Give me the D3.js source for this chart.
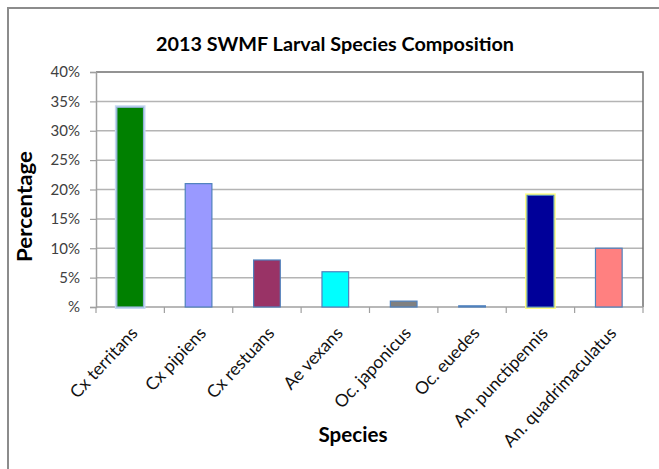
<!DOCTYPE html>
<html>
<head>
<meta charset="utf-8">
<script src="https://cdn.jsdelivr.net/npm/d3@7"></script>
<style>
  html, body { margin: 0; padding: 0; background: #fff; }
  svg { display: block; }
  text { font-family: Lato, "Open Sans", sans-serif; }
</style>
</head>
<body>
<svg id="chart" width="659" height="469"></svg>
<script>
// Larval species composition, 2013 (percent of larvae collected)
const species = ["Cx territans", "Cx pipiens", "Cx restuans", "Ae vexans",
                 "Oc. japonicus", "Oc. euedes", "An. punctipennis", "An. quadrimaculatus"];
const percent = [34, 21, 8, 6, 1, 0.2, 19, 10];
const barColors = ["#008000", "#9999ff", "#993366", "#00ffff",
                   "#808080", "#8fb0e0", "#000099", "#ff8080"];
const yTicks = [0, 5, 10, 15, 20, 25, 30, 35, 40];
const titleText = "2013 SWMF Larval Species Composition";
const xTitle = "Species";
const yTitle = "Percentage";

const svg = d3.select("#chart");
const plot = { left: 96, right: 643, top: 72, bottom: 307 };

// Outer chart frame (runs past the right and bottom edges)
svg.append("rect")
  .attr("x", 8).attr("y", 8).attr("width", 700).attr("height", 520)
  .attr("fill", "#fff").attr("stroke", "#8c8c8c").attr("stroke-width", 2);

const x = d3.scaleBand().domain(species).range([plot.left, plot.right]).padding(0);
const y = d3.scaleLinear().domain([0, 40]).range([plot.bottom, plot.top]);

// Horizontal gridlines
svg.append("g")
  .selectAll("line")
  .data(yTicks.filter(t => t > 0 && t < 40))
  .join("line")
  .attr("x1", plot.left).attr("x2", plot.right)
  .attr("y1", d => y(d)).attr("y2", d => y(d))
  .attr("stroke", "#b4b4b4").attr("stroke-width", 1.5);

// Plot area border: top and right
svg.append("path")
  .attr("d", `M${plot.left},${plot.top}H${plot.right}V${plot.bottom}`)
  .attr("fill", "none").attr("stroke", "#707070").attr("stroke-width", 1.5);

// Y axis
const yAxis = d3.axisLeft(y)
  .tickValues(yTicks)
  .tickSize(6)
  .tickPadding(10)
  .tickFormat(d => d === 0 ? "%" : d + "%");
const yg = svg.append("g").attr("transform", `translate(${plot.left},0)`).call(yAxis);
yg.select(".domain").attr("stroke", "#a0a0a0").attr("stroke-width", 1.5);
yg.selectAll(".tick line").attr("stroke", "#a0a0a0").attr("stroke-width", 1.2);
yg.selectAll(".tick text")
  .attr("fill", "#404040")
  .style("font-size", "15px")
  .style("font-family", "Lato, sans-serif");

// X axis with ticks on the category boundaries
const xg = svg.append("g").attr("transform", `translate(0,${plot.bottom})`);
xg.append("line")
  .attr("x1", plot.left).attr("x2", plot.right)
  .attr("stroke", "#a0a0a0").attr("stroke-width", 1.5);
const boundaries = species.map(s => x(s)).concat([x.range()[1]]);
xg.selectAll("line.tk")
  .data(boundaries)
  .join("line")
  .attr("class", "tk")
  .attr("x1", d => d).attr("x2", d => d)
  .attr("y1", 0).attr("y2", 6)
  .attr("stroke", "#a0a0a0").attr("stroke-width", 1.2);

// Bars
const barW = x.bandwidth() * 0.39;
const rows = species.map((s, i) => ({ s, v: percent[i], i }));
const bars = svg.append("g");
bars.selectAll("rect.glow")
  .data(rows.filter(d => d.i === 0 || d.i === 6))
  .join("rect")
  .attr("class", "glow")
  .attr("x", d => x(d.s) + (x.bandwidth() - barW) / 2)
  .attr("y", d => y(d.v))
  .attr("width", barW)
  .attr("height", d => y(0) - y(d.v))
  .attr("fill", "none")
  .attr("stroke", d => d.i === 0 ? "#c6d9f1" : "#ffff80")
  .attr("stroke-width", 4);
bars.selectAll("rect.bar")
  .data(rows)
  .join("rect")
  .attr("class", "bar")
  .attr("x", d => x(d.s) + (x.bandwidth() - barW) / 2)
  .attr("y", d => y(d.v))
  .attr("width", barW)
  .attr("height", d => Math.max(1, y(0) - y(d.v)))
  .attr("fill", d => barColors[d.i])
  .attr("stroke", d => d.i === 0 ? "#95b3d7" : "#4f81bd")
  .attr("stroke-width", 1.2);

// Category labels, rotated
svg.append("g")
  .selectAll("text")
  .data(species)
  .join("text")
  .attr("transform", d => `translate(${x(d) + x.bandwidth() / 2 + 8.5},${plot.bottom + 27}) rotate(-47)`)
  .attr("text-anchor", "end")
  .attr("fill", "#111")
  .style("font-size", "17.5px")
  .text(d => d);

// Titles
svg.append("text")
  .attr("x", 335).attr("y", 51)
  .attr("text-anchor", "middle")
  .attr("textLength", 358).attr("lengthAdjust", "spacingAndGlyphs")
  .style("font-size", "19px").style("font-weight", "bold")
  .attr("fill", "#000")
  .text(titleText);

svg.append("text")
  .attr("x", 353).attr("y", 442)
  .attr("text-anchor", "middle")
  .attr("textLength", 69).attr("lengthAdjust", "spacingAndGlyphs")
  .style("font-size", "20px").style("font-weight", "bold")
  .attr("fill", "#000")
  .text(xTitle);

svg.append("text")
  .attr("transform", `translate(32,206.5) rotate(-90)`)
  .attr("text-anchor", "middle")
  .attr("textLength", 111).attr("lengthAdjust", "spacingAndGlyphs")
  .style("font-size", "20px").style("font-weight", "bold")
  .attr("fill", "#000")
  .text(yTitle);
</script>
</body>
</html>
